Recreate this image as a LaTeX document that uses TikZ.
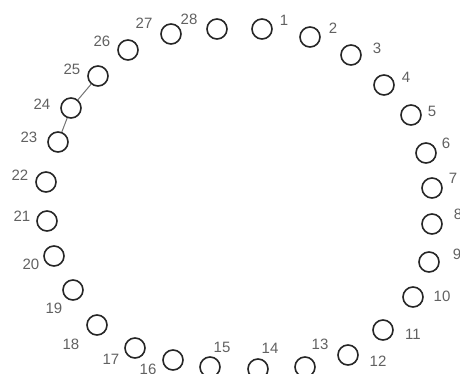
\documentclass[tikz,border=0pt]{standalone}
\usepackage{fontspec}
\setmainfont{Liberation Sans}
\usetikzlibrary{positioning}

\begin{document}
\begin{tikzpicture}[x=1pt, y=-1pt,
  vtx/.style={draw=black!85, line width=1.6pt, circle, minimum size=20pt, inner sep=0pt},
  lbl/.style={text=black!62, font=\fontsize{15}{18}\selectfont, inner sep=0pt},
  link/.style={draw=black!55, line width=1pt}
]
  \useasboundingbox (0,0) rectangle (460,374);
  % ring of nodes with their numbers
  \foreach \i/\x/\y/\lx/\ly in {
    1/262/29/284/20, 2/310/37/333/28, 3/351/55/377/48, 4/384/85/406/77,
    5/411/115/432/111, 6/426/153/446/143, 7/432/188/453/178, 8/432/224/458/214,
    9/429/262/457/254, 10/413/297/442/296, 11/383/330/413/334, 12/348/355/378/361,
    13/305/367/320/344, 14/258/369/270/348, 15/210/367/222/347, 16/173/360/148/369,
    17/135/348/111/359, 18/97/325/71/344, 19/73/290/54/308, 20/54/256/31/264,
    21/47/221/22/216, 22/46/182/20/175, 23/58/142/29/137, 24/71/108/42/104,
    25/98/76/72/69, 26/128/50/102/41, 27/171/34/144/23, 28/217/29/189/19}{
    \node[vtx] (v\i) at (\x,\y) {};
    \node[lbl] (l\i) at (\lx,\ly) {\i};
  }
  \draw[link] (v23) -- (v24);
  \draw[link] (v24) -- (v25);
\end{tikzpicture}
\end{document}
